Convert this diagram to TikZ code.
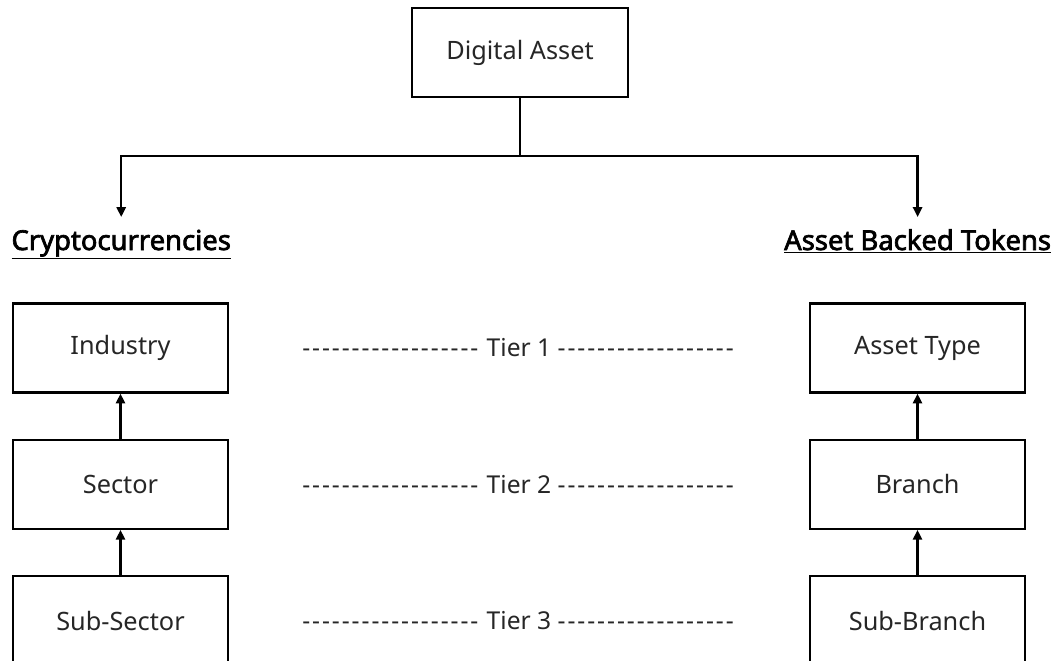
\documentclass[tikz,border=0pt]{standalone}
\usepackage{fontspec}
\setmainfont{Noto Sans}[AutoFakeBold=2.5]
\usepackage{tikz}
\usetikzlibrary{positioning, calc, arrows.meta}

\newcommand{\tierdash}{\foreach \k in {1,...,18}{-\kern1.4pt}}

\begin{document}
\begin{tikzpicture}[
    box/.style={rectangle, draw=black, line width=1.6pt, minimum width=5.375cm,
                minimum height=2.225cm, align=center, text=black!85,
                font=\fontsize{18}{21}\selectfont},
    head/.style={anchor=base, inner sep=0pt, font=\fontsize{19.5}{22}\selectfont\bfseries},
    tier/.style={text=black!85, font=\fontsize{17.5}{20}\selectfont},
    line/.style={line width=1.6pt},
    arrow/.style={-{Triangle[length=7pt, width=6.5pt]}, line width=1.6pt},
  ]
    \useasboundingbox (0,0) rectangle (26.475,-16.5);

    \node[box, minimum width=5.4cm] (DA) at (13.0,-1.3125) {Digital Asset};

    % headings
    \node[head] (CRY) at (3.03,-6.25) {\underline{Cryptocurrencies}};
    \node[head] (ABT) at (22.94,-6.25) {\underline{Asset Backed Tokens}};

    % left column
    \node[box] (IND) at (3.0125,-8.7) {Industry};
    \node[box, below=1.125cm of IND] (SEC) {Sector};
    \node[box, below=1.125cm of SEC] (SUBSEC) {Sub-Sector};

    % right column
    \node[box] (ATYPE) at (22.9375,-8.7) {Asset Type};
    \node[box, below=1.125cm of ATYPE] (BR) {Branch};
    \node[box, below=1.125cm of BR] (SUBBR) {Sub-Branch};

    % tiers
    \node[tier] (T1) at ($(IND)!0.5!(ATYPE)$) {\tierdash\ Tier 1 \tierdash};
    \node[tier] (T2) at ($(SEC)!0.5!(BR)$) {\tierdash\ Tier 2 \tierdash};
    \node[tier] (T3) at ($(SUBSEC)!0.5!(SUBBR)$) {\tierdash\ Tier 3 \tierdash};

    \draw[line] (DA.south) -- ++(0,-1.45) coordinate (split);
    \draw[arrow] (split) -| ([yshift=0.825cm]CRY.base);
    \draw[arrow] (split) -| ([yshift=0.825cm]ABT.base);

    \draw[arrow] (SEC) -- (IND);
    \draw[arrow] (SUBSEC) -- (SEC);
    \draw[arrow] (BR) -- (ATYPE);
    \draw[arrow] (SUBBR) -- (BR);
  \end{tikzpicture}
\end{document}
